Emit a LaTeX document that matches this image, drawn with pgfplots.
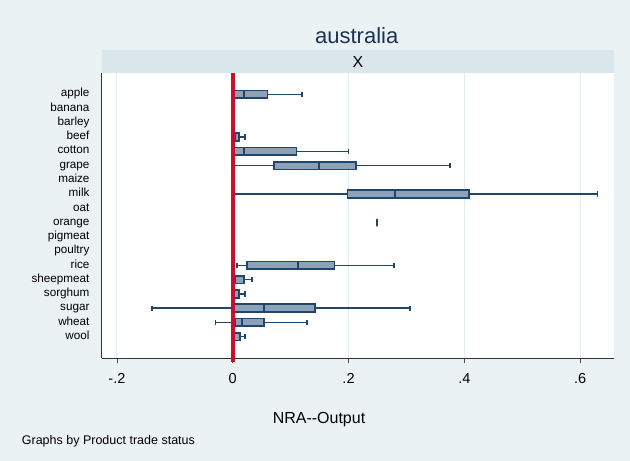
\documentclass[border=0pt]{standalone}
\usepackage{fontspec}
\setmainfont{Liberation Sans}
\setsansfont{Liberation Sans}
\usepackage{pgfplots}
\pgfplotsset{compat=1.18}
\usepgfplotslibrary{statistics}
\definecolor{bgc}{RGB}{234,242,243}
\definecolor{stripc}{RGB}{217,230,235}
\definecolor{gridc}{RGB}{228,236,240}
\definecolor{boxfill}{RGB}{141,162,185}
\definecolor{boxline}{RGB}{32,70,108}
\definecolor{redc}{RGB}{200,16,46}
\definecolor{titlec}{RGB}{30,50,85}
\begin{document}
\begin{tikzpicture}[x=1pt,y=1pt]
\fill[bgc] (-101.7,-102.7) rectangle (528.3,358.3);
\begin{axis}[
  at={(0,0)}, anchor=south west,
  scale only axis, width=512.6pt, height=285pt,
  xmin=-0.2263, xmax=0.659,
  ymin=-0.515, ymax=19.473,
  axis background/.style={fill=white},
  axis x line*=bottom, axis y line*=left,
  axis line style={-, draw=black!80, line width=0.8pt},
  xtick={-0.2,0,0.2,0.4,0.6},
  xticklabels={-.2,0,.2,.4,.6},
  ytick={1,...,18},
  yticklabels={wool,wheat,sugar,sorghum,sheepmeat,rice,poultry,pigmeat,orange,oat,milk,maize,grape,cotton,beef,barley,banana,apple},
  tick align=outside,
  major tick length=5pt,
  x tick style={draw=black!70, line width=0.8pt},
  y tick style={draw=none},
  xticklabel style={font=\fontsize{14.5}{16}\selectfont, anchor=base, yshift=-20pt},
  yticklabel style={font=\fontsize{11.7}{13}\selectfont, anchor=mid east, inner sep=0pt, xshift=-7pt},
  xmajorgrids, ymajorgrids=false,
  grid style={draw=gridc, line width=0.9pt},
  clip=false,
  boxplot/draw direction=x,
  boxplot/box extend=0.54,
  boxplot/whisker extend=0.375,
  boxplot/every box/.style={fill=boxfill, draw=boxline, line width=1.7pt},
  boxplot/every whisker/.style={draw=boxline, line width=1.6pt},
  boxplot/every median/.style={draw=boxline, line width=1.7pt},
]
% apple
\addplot[boxplot prepared={draw position=18, lower whisker=0, lower quartile=0.001, median=0.020, upper quartile=0.060, upper whisker=0.120}] coordinates {};
% banana
\addplot[boxplot prepared={draw position=17, lower whisker=0, lower quartile=0, median=0, upper quartile=0.001, upper whisker=0.001}] coordinates {};
% barley
\addplot[boxplot prepared={draw position=16, lower whisker=0, lower quartile=0, median=0.001, upper quartile=0.002, upper whisker=0.002}] coordinates {};
% beef
\addplot[boxplot prepared={draw position=15, lower whisker=0, lower quartile=0.001, median=0.004, upper quartile=0.0114, upper whisker=0.021}] coordinates {};
% cotton
\addplot[boxplot prepared={draw position=14, lower whisker=0, lower quartile=0.001, median=0.020, upper quartile=0.110, upper whisker=0.200}] coordinates {};
% grape
\addplot[boxplot prepared={draw position=13, lower whisker=0.001, lower quartile=0.071, median=0.1485, upper quartile=0.2124, upper whisker=0.375}] coordinates {};
% maize
\addplot[boxplot prepared={draw position=12, lower whisker=0, lower quartile=0, median=0, upper quartile=0.001, upper whisker=0.001}] coordinates {};
% milk
\addplot[boxplot prepared={draw position=11, lower whisker=0.001, lower quartile=0.198, median=0.280, upper quartile=0.4086, upper whisker=0.630}] coordinates {};
% oat
\addplot[boxplot prepared={draw position=10, lower whisker=0, lower quartile=0, median=0.001, upper quartile=0.002, upper whisker=0.002}] coordinates {};
% orange
\addplot[boxplot prepared={draw position=9, lower whisker=0.2497, lower quartile=0.2497, median=0.2497, upper quartile=0.2497, upper whisker=0.2497}] coordinates {};
% pigmeat
\addplot[boxplot prepared={draw position=8, lower whisker=0, lower quartile=0, median=0.001, upper quartile=0.002, upper whisker=0.002}] coordinates {};
% poultry
\addplot[boxplot prepared={draw position=7, lower whisker=0, lower quartile=0, median=0, upper quartile=0.001, upper whisker=0.001}] coordinates {};
% rice
\addplot[boxplot prepared={draw position=6, lower whisker=0.0074, lower quartile=0.0247, median=0.1123, upper quartile=0.176, upper whisker=0.279}] coordinates {};
% sheepmeat
\addplot[boxplot prepared={draw position=5, lower whisker=0.0017, lower quartile=0.0017, median=0.005, upper quartile=0.020, upper whisker=0.0328}] coordinates {};
% sorghum
\addplot[boxplot prepared={draw position=4, lower whisker=0.0005, lower quartile=0.0005, median=0.002, upper quartile=0.0114, upper whisker=0.0212}] coordinates {};
% sugar
\addplot[boxplot prepared={draw position=3, lower whisker=-0.139, lower quartile=0.001, median=0.054, upper quartile=0.142, upper whisker=0.306}] coordinates {};
% wheat
\addplot[boxplot prepared={draw position=2, lower whisker=-0.030, lower quartile=0.0035, median=0.0166, upper quartile=0.0546, upper whisker=0.128}] coordinates {};
% wool
\addplot[boxplot prepared={draw position=1, lower whisker=0.0005, lower quartile=0.0005, median=0.003, upper quartile=0.0126, upper whisker=0.0212}] coordinates {};
% zero reference line
\addplot[draw=redc, line width=4.2pt] coordinates {(0,19.473) (0,-0.755)};
\end{axis}
% strip
\fill[stripc] (0,285) rectangle (512.6,308.3);
\node[anchor=base, inner sep=0pt, font=\fontsize{16}{18}\selectfont] at (256.3,291) {X};
\node[anchor=base, inner sep=0pt, text=titlec, font=\fontsize{22}{24}\selectfont] at (255,315) {australia};
\node[anchor=base, inner sep=0pt, font=\fontsize{16}{18}\selectfont] at (217.3,-65) {NRA-{}-Output};
\node[anchor=base west, inner sep=0pt, font=\fontsize{12.5}{14}\selectfont] at (-80,-86.7) {Graphs by Product trade status};
\pgfresetboundingbox
\path[use as bounding box] (-101.7,-102.7) rectangle (528.3,358.3);
\end{tikzpicture}
\end{document}
